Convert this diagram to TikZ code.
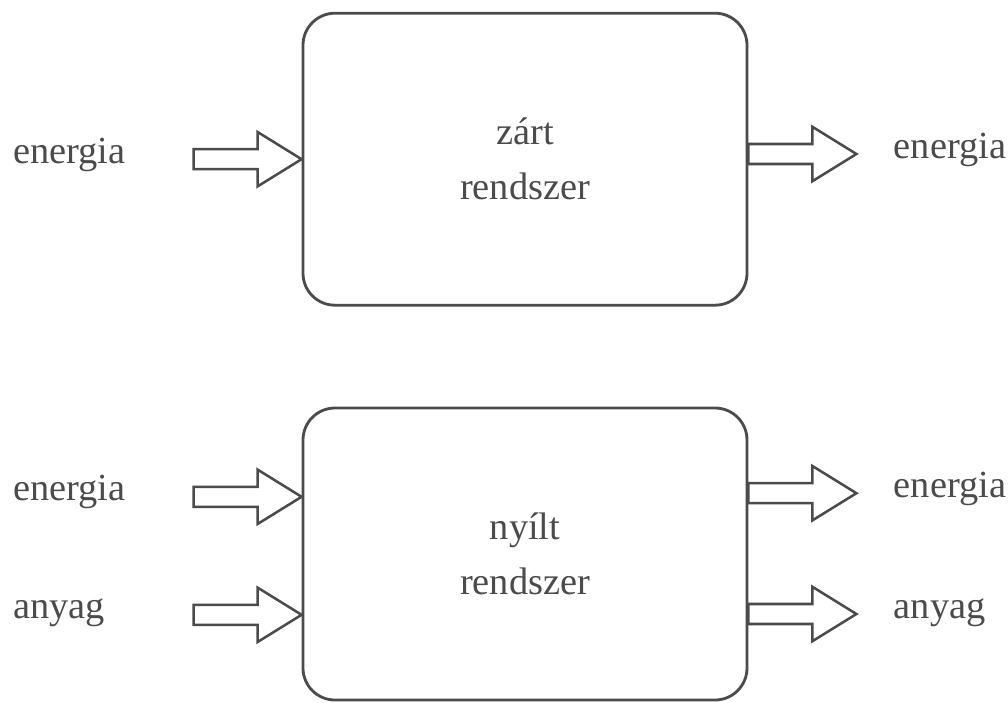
\documentclass[tikz,border=0pt]{standalone}
\usepackage{fontspec}
\setmainfont{Liberation Serif}
\usetikzlibrary{positioning}
\definecolor{ink}{RGB}{75,75,75}

\tikzset{
  system/.style={rectangle, draw=ink, line width=2pt, rounded corners=0.8cm,
    minimum width=11.1cm, minimum height=7.3cm, align=center, text=ink,
    font=\fontsize{27.3}{39}\selectfont},
  term/.style={text=ink, inner sep=0pt, text height=1.5ex, text depth=.25ex,
    font=\fontsize{27.3}{33}\selectfont},
  flow/.pic={
    \draw[draw=ink, line width=1.8pt, line join=miter]
      (0,-0.25) -- (1.6,-0.25) -- (1.6,-0.68) -- (2.7,0) -- (1.6,0.68) -- (1.6,0.25) -- (0,0.25) -- cycle;
    \coordinate (-tail) at (0,0);
    \coordinate (-tip) at (2.7,0);
  }
}

\begin{document}
\begin{tikzpicture}
    \useasboundingbox (0,0) rectangle (25.2,-17.55);

    % Systems
    \node[system] (zart) at (13.125,-3.98) {zárt\\rendszer};
    \node[system] (nyilt) at (13.125,-13.85) {nyílt\\rendszer};

    % Closed system flows
    \pic (zartIn) at ([xshift=-2.7cm]zart.west) {flow};
    \pic (zartOut) at ([yshift=0.13cm]zart.east) {flow};

    % Open system flows
    \pic (nyiltInE) at ([xshift=-2.7cm,yshift=1.43cm]nyilt.west) {flow};
    \pic (nyiltInA) at ([xshift=-2.7cm,yshift=-1.52cm]nyilt.west) {flow};
    \pic (nyiltOutE) at ([yshift=1.52cm]nyilt.east) {flow};
    \pic (nyiltOutA) at ([yshift=-1.5cm]nyilt.east) {flow};

    % Labels
    \node[term, left=1.7cm of zartIn-tail] (zartInL) {energia};
    \node[term, right=0.93cm of zartOut-tip] (zartOutL) {energia};
    \node[term, left=1.7cm of nyiltInE-tail] (nyiltInEL) {energia};
    \node[term, anchor=west] (nyiltInAL) at (nyiltInEL.west |- nyiltInA-tail) {anyag};
    \node[term, right=0.93cm of nyiltOutE-tip] (nyiltOutEL) {energia};
    \node[term, right=0.93cm of nyiltOutA-tip] (nyiltOutAL) {anyag};
\end{tikzpicture}
\end{document}
